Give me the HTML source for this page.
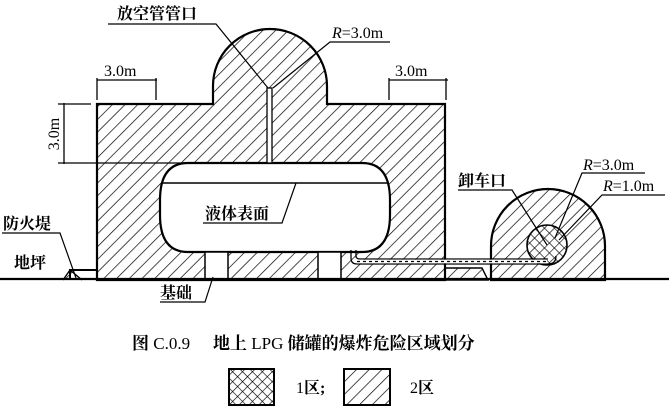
<!DOCTYPE html>
<html><head><meta charset="utf-8"><style>
html,body{margin:0;padding:0;background:#fff;}
svg{display:block;}
text{font-family:"Liberation Serif","Noto Serif CJK SC","Noto Sans CJK SC",serif;fill:#000;font-weight:bold;}
.n{font-weight:normal;}
</style></head><body>
<svg width="669" height="410" viewBox="0 0 669 410" xmlns="http://www.w3.org/2000/svg">
<defs>
<pattern id="h" patternUnits="userSpaceOnUse" width="9" height="9" patternTransform="rotate(45)">
<line x1="0" y1="0" x2="0" y2="9" stroke="#000" stroke-width="1.4"/>
</pattern>
<pattern id="x" patternUnits="userSpaceOnUse" width="7" height="7" patternTransform="rotate(45)">
<line x1="0" y1="0" x2="0" y2="7" stroke="#000" stroke-width="1.3"/>
<line x1="0" y1="0" x2="7" y2="0" stroke="#000" stroke-width="1.3"/>
</pattern>
</defs>
<g stroke="#000" fill="none">
<path fill="url(#h)" stroke-width="2.2" fill-rule="evenodd" d="M97,280 L97,104 L213,104 L213,86 A57,57 0 0 1 327,86 L327,104 L445,104 L445,280 Z
M188,163 L362,163 Q390,163 390,200 L390,215 Q390,252 362,252 L188,252 Q160,252 160,215 L160,200 Q160,163 188,163 Z"/>
<rect x="205" y="252" width="23" height="28" fill="#fff" stroke-width="1.5"/>
<rect x="318" y="252" width="23" height="28" fill="#fff" stroke-width="1.5"/>
<line x1="163" y1="183" x2="387" y2="183" stroke-width="1.5"/>
<rect x="267" y="88" width="5" height="75" fill="#fff" stroke-width="1.3"/>
<path d="M97,270 L70,270 L70,280" stroke-width="2"/>
<path d="M63,280 L70,270 L82,280" fill="url(#h)" stroke-width="1.4"/>
<path fill="url(#h)" stroke-width="2.2" d="M491,280 L491,246 A57,57 0 0 1 605,246 L605,280 Z"/>
<circle cx="547" cy="245" r="20" fill="#fff" stroke="none"/>
<circle cx="547" cy="245" r="20" fill="url(#x)" stroke-width="1.6"/>
<path d="M445,268 L482,268 L488,280 L445,280 Z" fill="url(#h)" stroke-width="1.4"/>
<path d="M351,250 L351,258 Q351,264 357,264 L548,264 Q556,264 556,256" stroke-width="1.3" fill="none"/>
<path d="M356,250 L356,256 Q356,259 360,259 L548,259" stroke-width="1.3" fill="none"/>
<rect x="357" y="259.7" width="190" height="3.6" fill="#fff" stroke="none"/>
<line x1="357" y1="261.5" x2="547" y2="261.5" stroke-width="1.2" stroke-dasharray="3,3"/>
<line x1="0" y1="279" x2="669" y2="279" stroke-width="2.2"/>
<line x1="97" y1="80" x2="157" y2="80" stroke-width="1.3"/>
<line x1="97" y1="78" x2="97" y2="100" stroke-width="1.3"/>
<line x1="156" y1="78" x2="156" y2="100" stroke-width="1.3"/>
<line x1="389" y1="80" x2="448" y2="80" stroke-width="1.3"/>
<line x1="389" y1="78" x2="389" y2="100" stroke-width="1.3"/>
<line x1="446" y1="78" x2="446" y2="100" stroke-width="1.3"/>
<line x1="64" y1="103" x2="64" y2="164" stroke-width="1.3"/>
<line x1="58" y1="104" x2="91" y2="104" stroke-width="1.3"/>
<line x1="58" y1="163" x2="188" y2="163" stroke-width="1.3"/>
<path d="M108,24 L216,24 L268,88" stroke-width="1.2"/>
<path d="M390,42 L330,42 L273,88" stroke-width="1.2"/>
<path d="M203,223 L282,223 L296,183" stroke-width="1.2"/>
<path d="M2,233 L60,233 L76,278" stroke-width="1.2"/>
<path d="M160,302 L205,302 L213,277" stroke-width="1.2"/>
<path d="M458,190 L512,190 L547,245" stroke-width="1.2"/>
<path d="M645,173 L582,173 L555,238" stroke-width="1.2"/>
<path d="M665,195 L602,195 L559,240" stroke-width="1.2"/>
<rect x="229" y="369" width="45" height="36" fill="url(#x)" stroke-width="2"/>
<rect x="344" y="369" width="46" height="36" fill="url(#h)" stroke-width="2"/>
</g>
<g font-size="16">
<text x="117" y="19">放空管管口</text>
<text class="n" x="332" y="38" font-size="16"><tspan font-style="italic">R</tspan>=3.0m</text>
<text class="n" x="104" y="76" font-size="16">3.0m</text>
<text class="n" x="395" y="76" font-size="16">3.0m</text>
<text class="n" transform="translate(59,134) rotate(-90)" text-anchor="middle" font-size="16">3.0m</text>
<text x="205" y="219">液体表面</text>
<text x="3" y="229">防火堤</text>
<text x="14" y="268">地坪</text>
<text x="160" y="298">基础</text>
<text x="458" y="186">卸车口</text>
<text class="n" x="583" y="170" font-size="16"><tspan font-style="italic">R</tspan>=3.0m</text>
<text class="n" x="603" y="191" font-size="16"><tspan font-style="italic">R</tspan>=1.0m</text>
<text x="132" y="349" font-size="17">图 <tspan class="n">C.0.9</tspan></text>
<text x="213" y="349" font-size="17">地上 <tspan class="n">LPG</tspan> 储罐的爆炸危险区域划分</text>
<text x="296" y="393" font-size="16"><tspan class="n">1</tspan>区;</text>
<text x="410" y="393" font-size="16"><tspan class="n">2</tspan>区</text>
</g>
</svg>
</body></html>
